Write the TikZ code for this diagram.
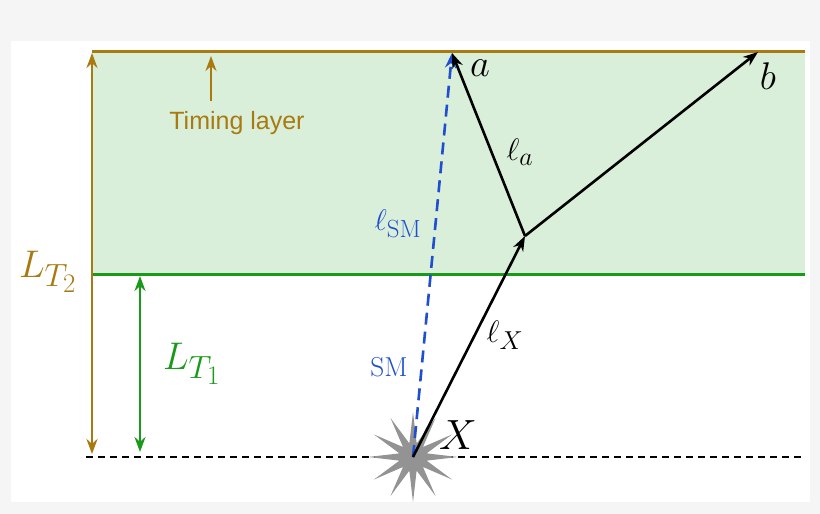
\documentclass[tikz,border=0pt]{standalone}
\usepackage{fontspec}
\newfontfamily\labfont{Liberation Sans}
\usetikzlibrary{shapes.geometric,arrows.meta}
\definecolor{brn}{HTML}{A87A10}
\definecolor{grn}{HTML}{1A9A1A}
\definecolor{lgrn}{HTML}{D9EFD9}
\definecolor{blu}{HTML}{1F4FD0}
\begin{document}
\begin{tikzpicture}[x=1pt,y=-1pt,
  ray/.style={line width=2.6pt,-{Stealth[length=15pt,width=11pt]}},
  dbl/.style={line width=2.6pt,{Stealth[length=15pt,width=11pt]}-{Stealth[length=15pt,width=11pt]}},
  lab/.style={inner sep=0pt,font=\fontsize{24.88}{26}\selectfont}]
\fill[black!4] (0,0) rectangle (820,514);
\fill[white] (11,41) rectangle (810,502);
\fill[lgrn] (92,51) rectangle (805,274);
\draw[brn,line width=3pt] (92,51) -- (805,51);
\draw[grn,line width=3pt] (92,274) -- (805,274);
\draw[line width=2pt,dash pattern=on 7pt off 5pt] (86,457) -- (805,457);
\node[star,star points=12,star point ratio=3.2,fill=gray!85,minimum size=90pt,inner sep=0pt] (S) at (413,457) {};
\coordinate (O) at (413,457);
\coordinate (A) at (452,53);
\coordinate (K) at (525,236);
\coordinate (B) at (758,52);
\coordinate (T1) at (92,454);
\coordinate (T2) at (92,53);
\coordinate (G1) at (140,276);
\coordinate (G2) at (140,452);
\coordinate (TL1) at (211,101);
\coordinate (TL2) at (211,56);
\draw[dbl,brn] (T1) -- (T2);
\draw[dbl,grn] (G1) -- (G2);
\draw[ray,brn] (TL1) -- (TL2);
\node[inner sep=0pt,brn,scale=1.25] (tl) at (237,123) {\fontsize{20}{20}\selectfont\labfont Timing layer};
\node[lab,brn,scale=1.55] (lt2) at (48,272) {$L_{T_2}$};
\node[lab,grn,scale=1.55] (lt1) at (192,364) {$L_{T_1}$};
\draw[blu,line width=2.6pt,dash pattern=on 12pt off 7pt,-{Stealth[length=15pt,width=11pt]}] (O) -- (A);
\draw[ray] (O) -- (K);
\draw[ray] (K) -- (A);
\draw[ray] (K) -- (B);
\node[lab,blu,scale=1.2] (lsm) at (398,224) {$\ell_{\mathrm{SM}}$};
\node[lab,blu,scale=1.1] (sm) at (389,367) {$\mathrm{SM}$};
\node[lab,scale=1.25] (lx) at (505,335) {$\ell_X$};
\node[lab,scale=1.25] (la) at (520,152) {$\ell_a$};
\node[lab,scale=1.7] (x) at (458,435) {$X$};
\node[lab,scale=1.55] (a) at (480,68) {$a$};
\node[lab,scale=1.55] (b) at (768,76) {$b$};
\end{tikzpicture}
\end{document}
